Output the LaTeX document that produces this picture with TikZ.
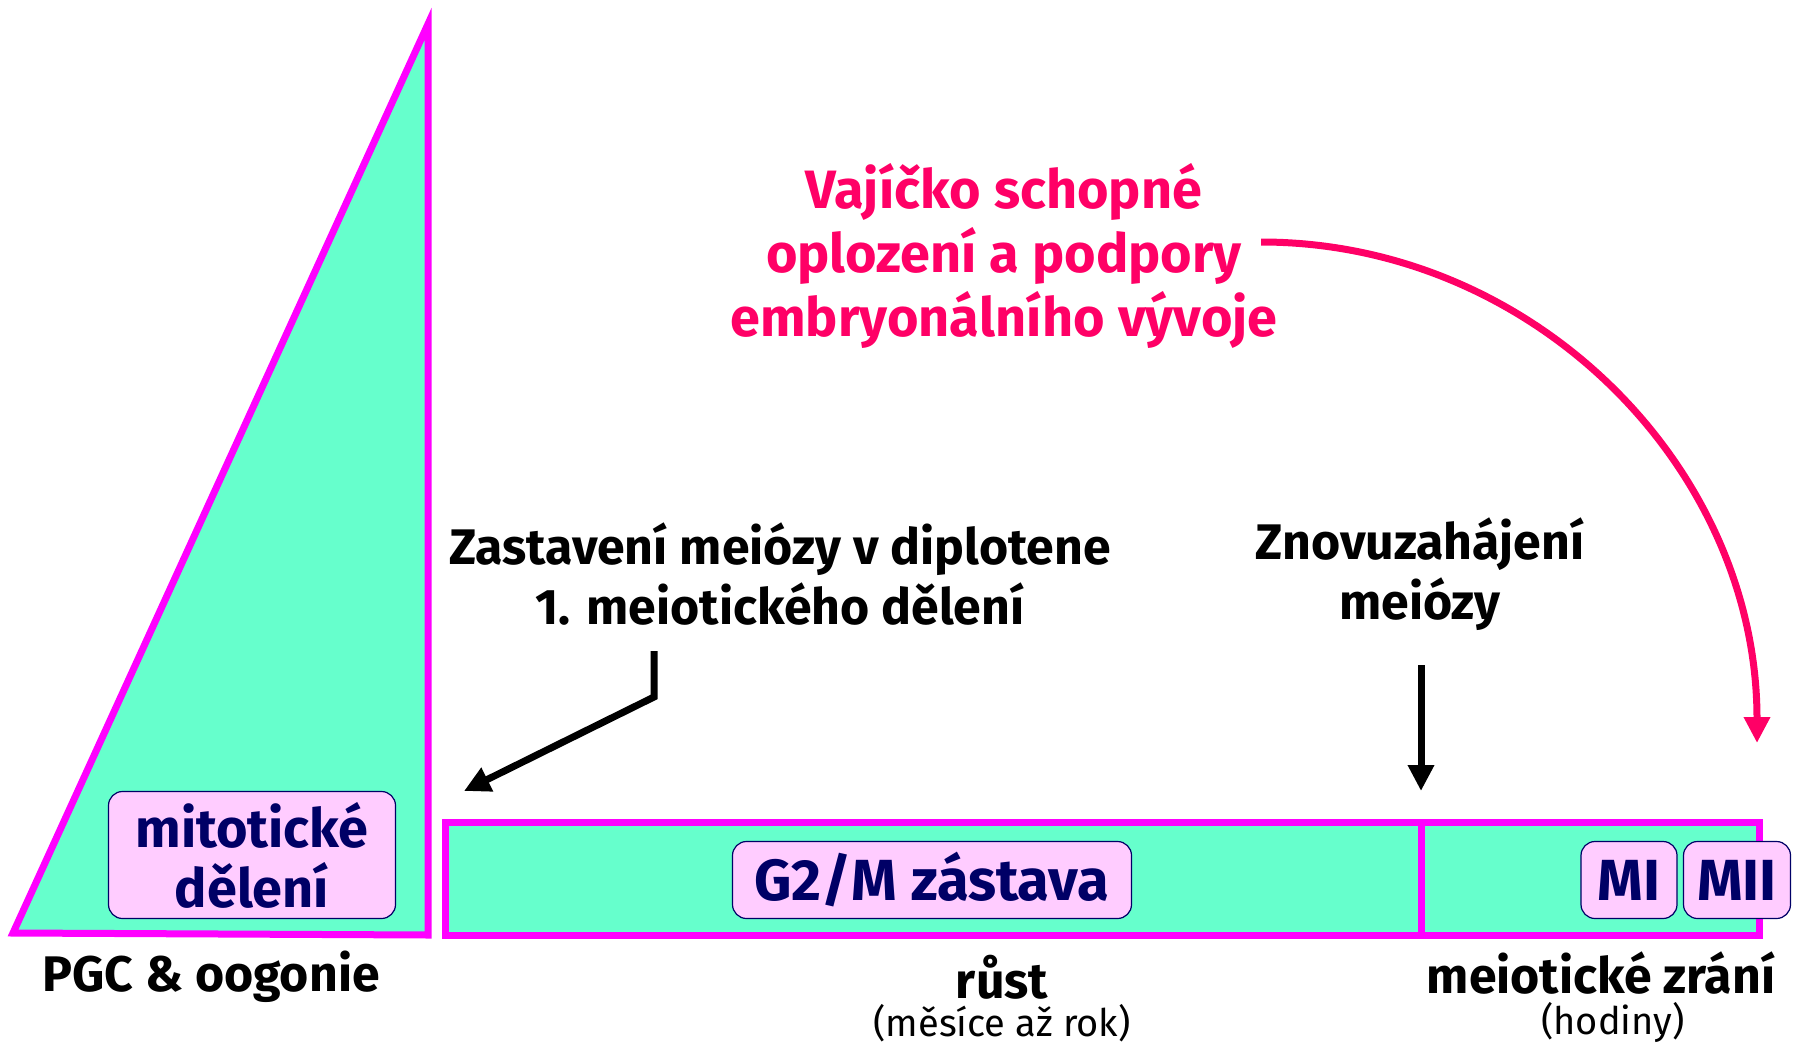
\documentclass[tikz,border=0pt]{standalone}
\usepackage{fontspec}
\setmainfont{Fira Sans}
\usepackage{xcolor}
\usetikzlibrary{arrows.meta,positioning,calc}

\definecolor{mint}{RGB}{102,255,204}
\definecolor{frame}{RGB}{255,0,255}
\definecolor{pinkbox}{RGB}{255,204,255}
\definecolor{navy}{RGB}{0,0,102}
\definecolor{rose}{RGB}{255,0,102}

\begin{document}
\begin{tikzpicture}[x=1pt, y=-1pt]
    \tikzstyle{stage} = [draw=frame, fill=mint, line width=7pt, line join=miter]
    \tikzstyle{tag} = [draw=navy, fill=pinkbox, rounded corners=14pt, line width=1.2pt, text=navy, inner sep=0pt, align=center, font=\bfseries\fontsize{58}{60}\selectfont]
    \tikzstyle{note} = [align=center, font=\bfseries\fontsize{50}{60}\selectfont]
    \tikzstyle{small} = [font=\fontsize{38}{40}\selectfont]
    \tikzstyle{pointer} = [draw, line width=7pt, -{Triangle[width=25pt,length=26pt]}]

    \useasboundingbox (0,0) rectangle (1806,1046);

    % stages
    \draw [stage] (13,933) -- (428,24) -- (428,935) -- cycle;
    \draw [stage] (445,822) rectangle (1421,935);
    \draw [stage] (1421,822) rectangle (1759,935);

    \node [tag, font=\bfseries\fontsize{54}{60}\selectfont, minimum width=287pt, minimum height=127pt] (mitosis) at (252,855) {mitotické\\dělení};
    \node [tag, minimum width=399pt, minimum height=77pt] (g2m) at (932,880) {G2/M zástava};
    \node [tag, minimum width=96pt, minimum height=77pt] (mone) at (1629,880) {MI};
    \node [tag, minimum width=107pt, minimum height=77pt] (mtwo) at (1737,880) {MII};

    % labels under the bar
    \node [note] (oogon) at (211,977) {PGC \& oogonie};
    \node [note] (growth) at (1002,977) {růst};
    \node [small] (months) at (1002,1023) {(měsíce až rok)};
    \node [note] (maturation) at (1601,973) {meiotické zrání};
    \node [small] (hours) at (1613,1022) {(hodiny)};

    % arrest and restart
    \node [note] (arrest) at (780,574) {Zastavení meiózy v diplotene\\1. meiotického dělení};
    \node [note] (restart) at (1420,574) {Znovuzahájení\\meiózy};
    \coordinate (arrestfrom) at (654,651);
    \coordinate (arrestbend) at (654,697);
    \coordinate (arresttip) at (464,791);
    \coordinate (restartfrom) at (1421,665);
    \coordinate (restarttip) at (1421,791);
    \draw [pointer, line join=miter] (arrestfrom) -- (arrestbend) -- (arresttip);
    \draw [pointer] (restartfrom) -- (restarttip);

    % competent egg
    \node [note, text=rose, font=\bfseries\fontsize{54}{64}\selectfont] (egg) at (1004,256) {Vajíčko schopné\\oplození a podpory\\embryonálního vývoje};
    \coordinate (eggfrom) at (1261,242);
    \coordinate (eggtip) at (1757,743);
    \draw [pointer, rose] (eggfrom) .. controls (1534,242) and (1757,468) .. (eggtip);
\end{tikzpicture}
\end{document}
